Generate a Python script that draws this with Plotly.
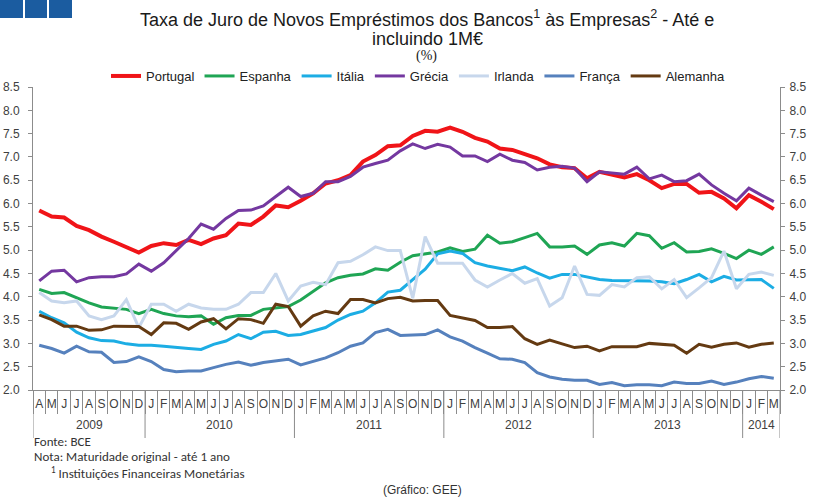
import plotly.graph_objects as go

# ---------------- data ----------------
month_labels = ["A", "M", "J", "J", "A", "S", "O", "N", "D",
                "J", "F", "M", "A", "M", "J", "J", "A", "S", "O", "N", "D",
                "J", "F", "M", "A", "M", "J", "J", "A", "S", "O", "N", "D",
                "J", "F", "M", "A", "M", "J", "J", "A", "S", "O", "N", "D",
                "J", "F", "M", "A", "M", "J", "J", "A", "S", "O", "N", "D",
                "J", "F", "M"]
year_labels = ["2009", "2010", "2011", "2012", "2013", "2014"]
months_per_year = [9, 12, 12, 12, 12, 3]

portugal = [5.85, 5.72, 5.70, 5.52, 5.43, 5.29, 5.18, 5.07, 4.95, 5.09,
            5.15, 5.11, 5.22, 5.13, 5.25, 5.32, 5.57, 5.54, 5.72, 5.96,
            5.92, 6.06, 6.22, 6.43, 6.50, 6.61, 6.90, 7.04, 7.23, 7.25,
            7.45, 7.56, 7.54, 7.63, 7.54, 7.41, 7.33, 7.18, 7.15, 7.06,
            6.97, 6.84, 6.78, 6.76, 6.54, 6.68, 6.61, 6.56, 6.63, 6.50,
            6.33, 6.42, 6.42, 6.23, 6.25, 6.11, 5.90, 6.18, 6.04, 5.88]
espanha = [4.16, 4.07, 4.09, 3.98, 3.87, 3.78, 3.75, 3.73, 3.64, 3.73,
           3.64, 3.59, 3.57, 3.59, 3.41, 3.55, 3.60, 3.60, 3.73, 3.76,
           3.79, 3.93, 4.12, 4.30, 4.41, 4.46, 4.49, 4.60, 4.57, 4.74,
           4.88, 4.92, 4.96, 5.05, 4.97, 5.02, 5.32, 5.15, 5.18, 5.27,
           5.36, 5.07, 5.07, 5.09, 4.91, 5.11, 5.16, 5.09, 5.36, 5.31,
           5.04, 5.16, 4.96, 4.97, 5.03, 4.93, 4.82, 5.00, 4.91, 5.07]
italia = [3.69, 3.55, 3.44, 3.24, 3.12, 3.06, 3.05, 2.99, 2.96, 2.96,
          2.94, 2.91, 2.89, 2.87, 2.98, 3.05, 3.19, 3.10, 3.24, 3.26,
          3.17, 3.19, 3.26, 3.34, 3.50, 3.62, 3.69, 3.87, 4.10, 4.14,
          4.37, 4.59, 4.92, 4.98, 4.93, 4.73, 4.66, 4.61, 4.56, 4.64,
          4.51, 4.40, 4.48, 4.48, 4.43, 4.37, 4.35, 4.35, 4.34, 4.34,
          4.32, 4.28, 4.37, 4.48, 4.32, 4.44, 4.36, 4.37, 4.37, 4.18]
grecia = [4.34, 4.55, 4.57, 4.32, 4.41, 4.43, 4.43, 4.49, 4.70, 4.55,
          4.73, 5.00, 5.25, 5.56, 5.45, 5.68, 5.85, 5.86, 5.95, 6.15,
          6.35, 6.15, 6.22, 6.47, 6.47, 6.58, 6.78, 6.86, 6.93, 7.13,
          7.28, 7.18, 7.27, 7.21, 7.02, 7.02, 6.90, 7.06, 6.93, 6.88,
          6.72, 6.78, 6.80, 6.76, 6.47, 6.68, 6.66, 6.63, 6.78, 6.53,
          6.61, 6.47, 6.49, 6.63, 6.40, 6.22, 6.06, 6.33, 6.18, 6.04]
irlanda = [4.09, 3.91, 3.87, 3.91, 3.59, 3.51, 3.59, 3.94, 3.34, 3.84,
           3.84, 3.69, 3.84, 3.76, 3.73, 3.73, 3.84, 4.09, 4.09, 4.50,
           3.91, 4.23, 4.31, 4.26, 4.73, 4.76, 4.90, 5.07, 4.99, 4.99,
           3.97, 5.29, 4.72, 4.72, 4.72, 4.36, 4.21, 4.36, 4.50, 4.29,
           4.39, 3.80, 3.98, 4.66, 4.05, 4.03, 4.26, 4.21, 4.41, 4.43,
           4.17, 4.37, 3.98, 4.19, 4.41, 4.98, 4.17, 4.48, 4.53, 4.46]
franca = [2.96, 2.89, 2.79, 2.94, 2.82, 2.81, 2.59, 2.61, 2.71, 2.61,
          2.44, 2.39, 2.41, 2.41, 2.48, 2.55, 2.60, 2.53, 2.59, 2.62,
          2.66, 2.54, 2.62, 2.69, 2.80, 2.94, 3.01, 3.23, 3.30, 3.17,
          3.18, 3.19, 3.29, 3.14, 3.05, 2.91, 2.79, 2.67, 2.66, 2.59,
          2.37, 2.28, 2.23, 2.21, 2.21, 2.12, 2.16, 2.09, 2.11, 2.11,
          2.09, 2.17, 2.14, 2.14, 2.19, 2.12, 2.17, 2.24, 2.29, 2.25]
alemanha = [3.61, 3.51, 3.37, 3.37, 3.28, 3.29, 3.37, 3.37, 3.36, 3.19,
            3.44, 3.43, 3.30, 3.46, 3.53, 3.31, 3.53, 3.51, 3.43, 3.84,
            3.79, 3.37, 3.59, 3.69, 3.64, 3.94, 3.94, 3.87, 3.96, 3.99,
            3.91, 3.92, 3.92, 3.60, 3.54, 3.49, 3.34, 3.34, 3.36, 3.10,
            2.98, 3.07, 2.99, 2.91, 2.94, 2.84, 2.93, 2.93, 2.93, 3.00,
            2.98, 2.96, 2.79, 2.98, 2.92, 2.98, 3.01, 2.92, 2.98, 3.01]

series_names = ["Portugal", "Espanha", "Itália", "Grécia", "Irlanda", "França", "Alemanha"]
series_values = [portugal, espanha, italia, grecia, irlanda, franca, alemanha]
series_colors = ["#F01418", "#1FA554", "#1CADE4", "#7438A0", "#C7D7EC", "#5681BD", "#643A12"]
series_widths = [4, 3, 3, 3, 3, 3, 3]

y_ticks = [2.0, 2.5, 3.0, 3.5, 4.0, 4.5, 5.0, 5.5, 6.0, 6.5, 7.0, 7.5, 8.0, 8.5]

# ---------------- figure ----------------
W, H = 818, 499
L, R, T, B = 33, 38, 87, 109
pw, ph = W - L - R, H - T - B


def px(x):
    return (x - L) / pw


def py(y):
    return (H - B - y) / ph


n = len(month_labels)
xs = list(range(n))

fig = go.Figure()
for name, vals, col, lw in zip(series_names, series_values, series_colors, series_widths):
    fig.add_trace(go.Scatter(x=xs, y=vals, mode="lines", name=name,
                             line=dict(color=col, width=lw)))
# invisible trace for right axis
fig.add_trace(go.Scatter(x=[xs[0]], y=[y_ticks[0]], yaxis="y2", showlegend=False,
                         mode="markers", marker=dict(opacity=0), hoverinfo="skip"))

axis_col = "#8C8C8C"
tick_font = dict(family="Liberation Sans, Arial", size=12, color="#404040")

fig.update_layout(
    width=W, height=H,
    margin=dict(l=L, r=R, t=T, b=B, pad=0, autoexpand=False),
    paper_bgcolor="white", plot_bgcolor="white",
    showlegend=True,
    legend=dict(orientation="h", x=px(418), xanchor="center", y=py(76), yanchor="middle",
                font=dict(family="Liberation Sans, Arial", size=13, color="#222222"),
                bgcolor="rgba(0,0,0,0)", itemwidth=30, tracegroupgap=0),
    xaxis=dict(range=[-0.5, n - 0.5], tickmode="array", tickvals=xs, ticktext=month_labels,
               ticks="", showgrid=False, zeroline=False, showline=True, linecolor=axis_col,
               linewidth=1, tickfont=tick_font, ticklabelstandoff=3, automargin=False,
               minor=dict(tickmode="array", tickvals=[i - 0.5 for i in range(n + 1)],
                          ticks="outside", ticklen=23, tickcolor=axis_col, tickwidth=1,
                          showgrid=False)),
    yaxis=dict(range=[y_ticks[0], y_ticks[-1]], tickmode="array", tickvals=y_ticks,
               ticktext=[f"{v:.1f}" for v in y_ticks], ticks="outside", ticklen=4,
               tickcolor=axis_col, showgrid=False, zeroline=False, showline=True,
               linecolor=axis_col, tickfont=tick_font, ticklabelstandoff=6, automargin=False),
    yaxis2=dict(range=[y_ticks[0], y_ticks[-1]], overlaying="y", side="right",
                tickmode="array", tickvals=y_ticks, ticktext=[f"{v:.1f}" for v in y_ticks],
                ticks="outside", ticklen=4, tickcolor=axis_col, showgrid=False,
                zeroline=False, showline=True, linecolor=axis_col, tickfont=tick_font,
                ticklabelstandoff=2, automargin=False),
)

shapes = []
# header squares
for x0, x1 in [(0, 23), (25, 47), (49, 72)]:
    shapes.append(dict(type="rect", xref="paper", yref="paper", x0=px(x0), x1=px(x1),
                       y0=py(18), y1=py(0), fillcolor="#1B5CA0", line=dict(width=0)))
# year separators
bounds = [-0.5]
for c in months_per_year:
    bounds.append(bounds[-1] + c)
for b in bounds:
    shapes.append(dict(type="line", xref="x", yref="paper", x0=b, x1=b, y0=0, y1=py(438),
                       line=dict(color=axis_col, width=1)))
fig.update_layout(shapes=shapes)

ann = []
for lab, b0, b1 in zip(year_labels, bounds[:-1], bounds[1:]):
    ann.append(dict(text=lab, x=(b0 + b1) / 2, xref="x", y=py(425), yref="paper",
                    showarrow=False, xanchor="center", yanchor="middle", font=tick_font))

title_font = dict(family="Liberation Sans, Arial", size=18, color="#1a1a1a")
ann.append(dict(text="Taxa de Juro de Novos Empréstimos dos Bancos<sup>1</sup> às Empresas<sup>2</sup> - Até e",
                x=px(427), y=py(18.5), xref="paper", yref="paper", showarrow=False,
                xanchor="center", yanchor="middle", font=title_font))
ann.append(dict(text="incluindo 1M€", x=px(427), y=py(38.5), xref="paper", yref="paper",
                showarrow=False, xanchor="center", yanchor="middle", font=title_font))
ann.append(dict(text="(%)", x=px(426), y=py(56), xref="paper", yref="paper",
                showarrow=False, xanchor="center", yanchor="middle",
                font=dict(family="Liberation Serif, Times New Roman", size=14, color="#1a1a1a")))

note_font = dict(family="Carlito, Lato, Open Sans", size=13, color="#333333")
ann.append(dict(text="Fonte: BCE", x=px(32), y=py(441), xref="paper", yref="paper",
                showarrow=False, xanchor="left", yanchor="middle", font=note_font))
ann.append(dict(text="Nota: Maturidade original - até 1 ano", x=px(32), y=py(456), xref="paper",
                yref="paper", showarrow=False, xanchor="left", yanchor="middle", font=note_font))
ann.append(dict(text="<sup>1</sup> Instituições Financeiras Monetárias", x=px(49), y=py(472),
                xref="paper", yref="paper", showarrow=False, xanchor="left", yanchor="middle",
                font=note_font))
ann.append(dict(text="(Gráfico: GEE)", x=px(422), y=py(490), xref="paper", yref="paper",
                showarrow=False, xanchor="center", yanchor="middle",
                font=dict(family="Liberation Sans, Arial", size=12, color="#333333")))
fig.update_layout(annotations=ann)

fig.write_html("out.html", config={"displayModeBar": False},
               post_script="document.body.style.margin='0';")
